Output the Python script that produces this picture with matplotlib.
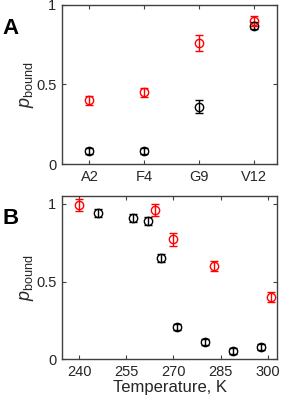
import matplotlib.pyplot as plt

plt.rcParams['font.family'] = ['Liberation Sans', 'DejaVu Sans']
plt.rcParams['mathtext.fontset'] = 'custom'
plt.rcParams['mathtext.rm'] = 'Liberation Sans'
plt.rcParams['mathtext.it'] = 'Liberation Sans:italic'

# Panel A data
sites = ["A2", "F4", "G9", "V12"]
black_a = [0.08, 0.08, 0.36, 0.87]
black_a_err = [0.02, 0.02, 0.04, 0.02]
red_a = [0.40, 0.45, 0.76, 0.90]
red_a_err = [0.03, 0.03, 0.05, 0.03]

# Panel B data
black_t = [246, 257, 262, 266, 271, 280, 289, 298]
black_b = [0.94, 0.91, 0.89, 0.65, 0.21, 0.11, 0.055, 0.08]
black_b_err = [0.025, 0.025, 0.025, 0.025, 0.02, 0.02, 0.02, 0.02]
red_t = [240, 264, 270, 283, 301]
red_b = [0.99, 0.96, 0.77, 0.60, 0.40]
red_b_err = [0.04, 0.04, 0.04, 0.03, 0.03]

axis_color = '#404040'


def style(ax):
    for s in ax.spines.values():
        s.set_color(axis_color)
        s.set_linewidth(1.0)
    ax.tick_params(direction='in', top=True, right=True, length=3,
                   color=axis_color, labelsize=10.5, labelcolor='#262626', pad=4)
    ax.set_yticks([0, 0.5, 1])
    ax.set_yticklabels(['0', '0.5', '1'])
    ax.set_ylabel(r'$p_{\mathrm{bound}}$', fontsize=13, color='#262626', labelpad=0)


def draw(ax, x, y, err, color):
    ax.errorbar(x, y, yerr=err, fmt='o', mfc='none', mec=color, ecolor=color,
                ms=6, mew=1.0, elinewidth=1.0, capsize=3, capthick=1.0)


fig = plt.figure(figsize=(2.83, 4.03), dpi=100)

ax1 = fig.add_axes([0.219, 0.593, 0.760, 0.395])
xpos = list(range(1, len(sites) + 1))
draw(ax1, xpos, black_a, black_a_err, 'black')
draw(ax1, xpos, red_a, red_a_err, 'red')
ax1.set_xlim(0.5, 4.42)
ax1.set_ylim(0, 1)
ax1.set_xticks(xpos)
ax1.set_xticklabels(sites)
style(ax1)
fig.text(0.01, 0.93, 'A', fontsize=16, fontweight='bold', va='center')

ax2 = fig.add_axes([0.219, 0.108, 0.760, 0.406])
draw(ax2, black_t, black_b, black_b_err, 'black')
draw(ax2, red_t, red_b, red_b_err, 'red')
ax2.set_xlim(234.5, 303)
ax2.set_ylim(0, 1.05)
ax2.set_xticks([240, 255, 270, 285, 300])
style(ax2)
ax2.set_xlabel('Temperature, K', fontsize=12, color='#262626', labelpad=1)
fig.text(0.01, 0.458, 'B', fontsize=16, fontweight='bold', va='center')

fig.savefig('out.png', dpi=100)
